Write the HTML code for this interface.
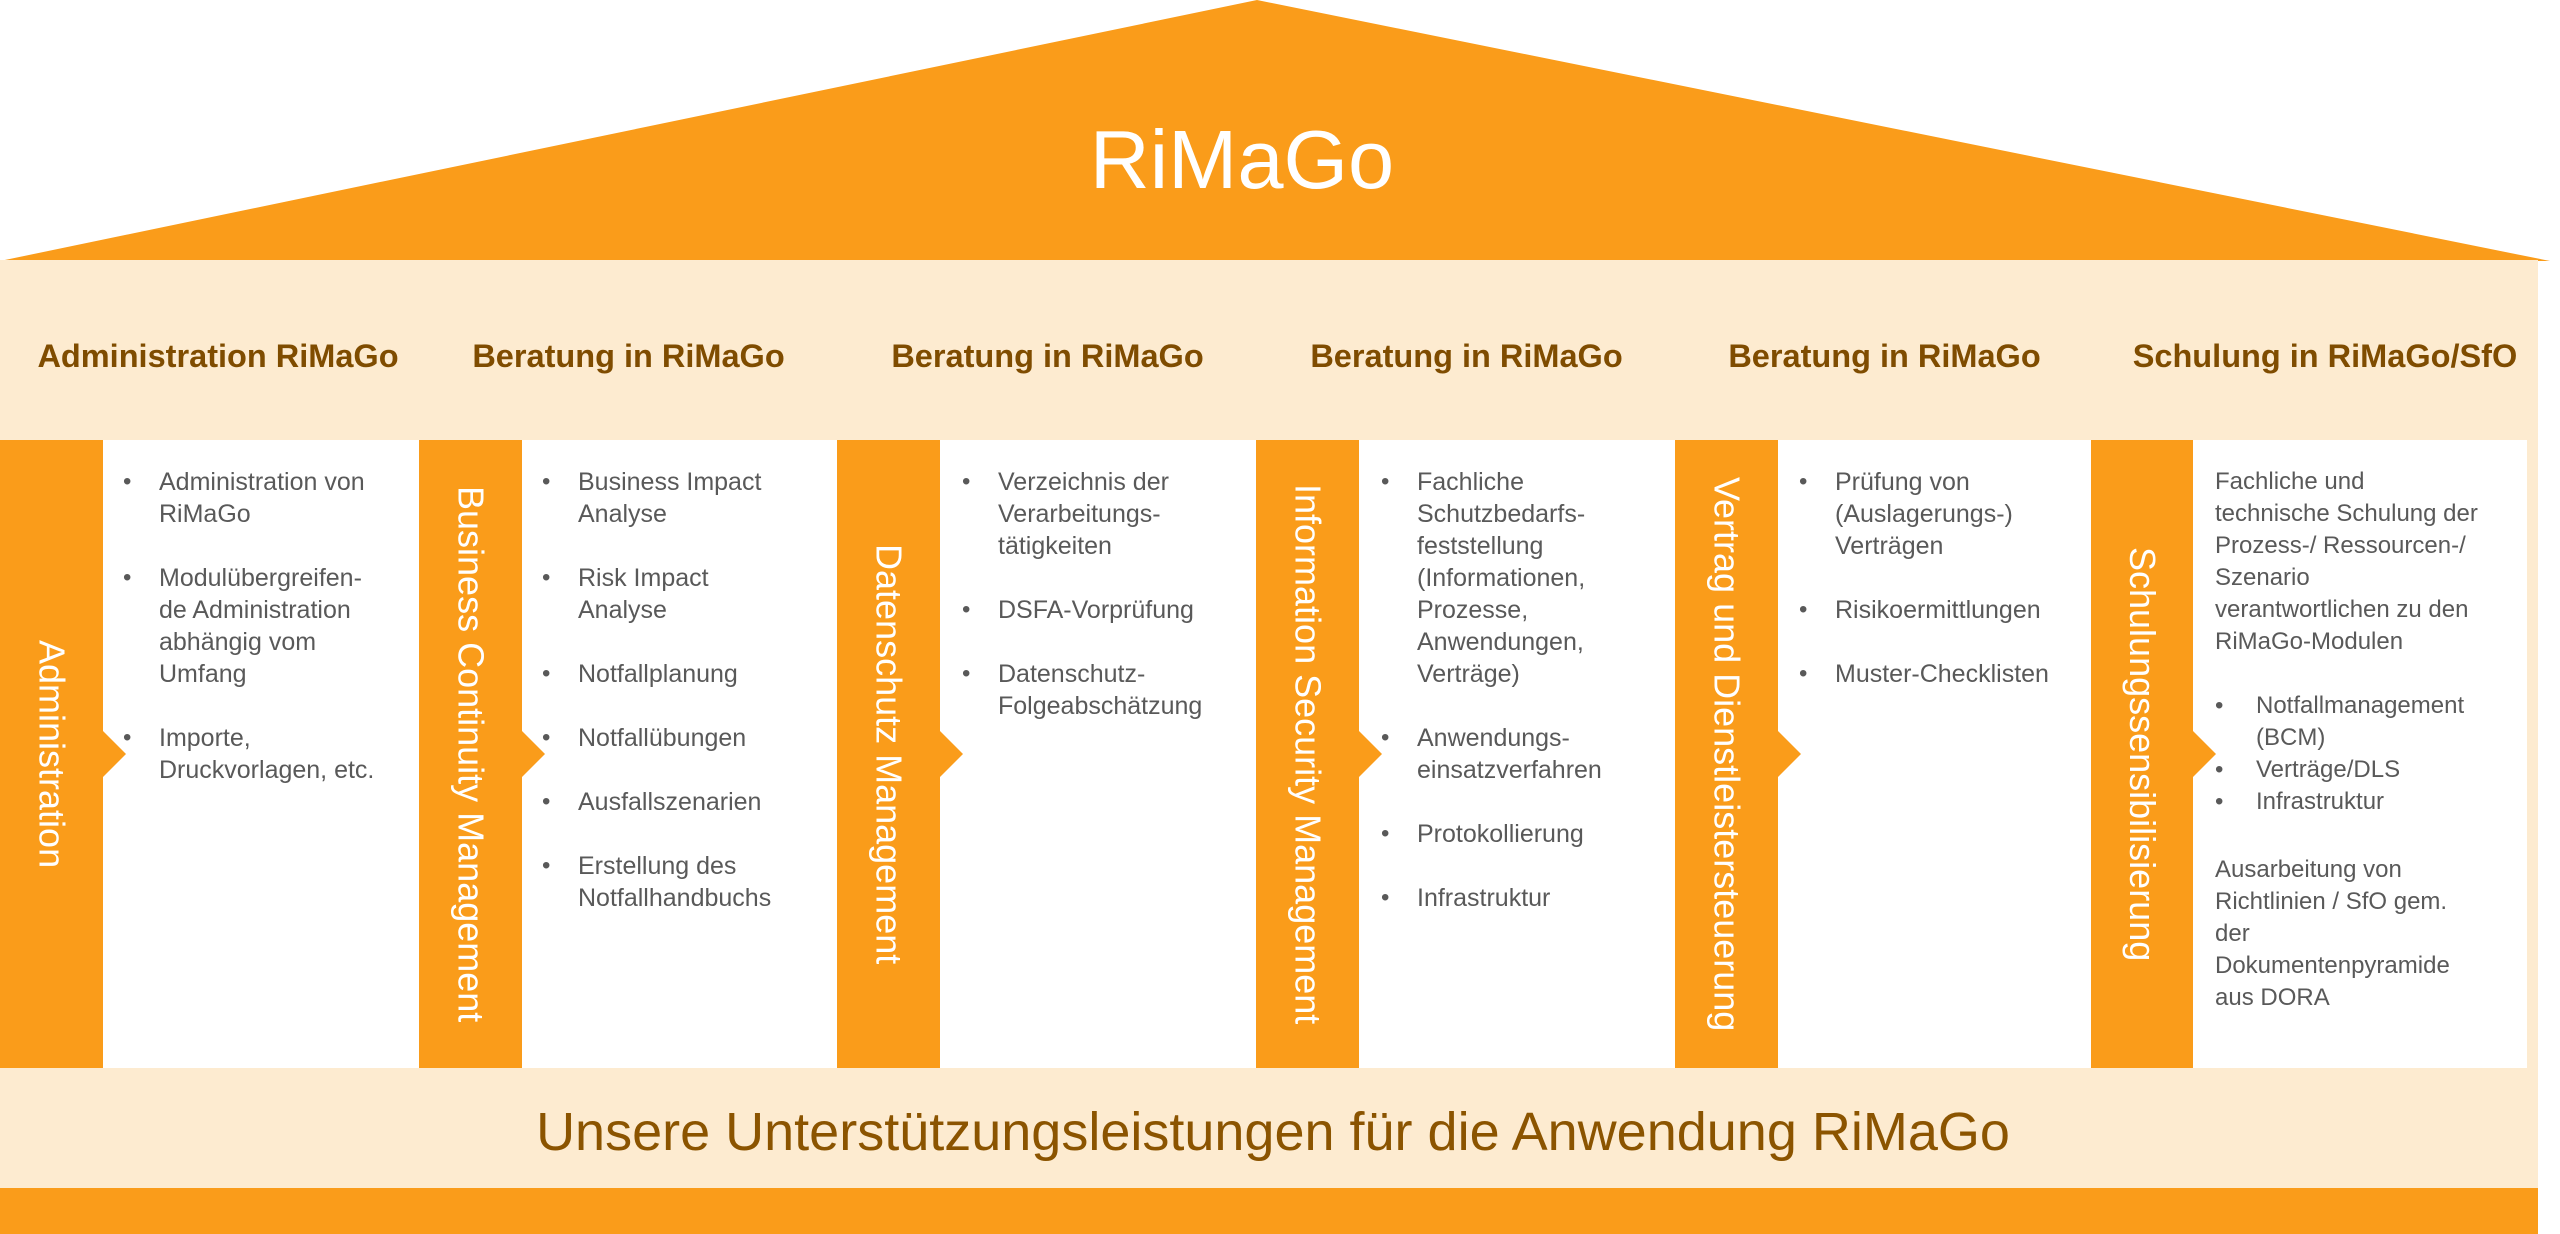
<!DOCTYPE html>
<html><head><meta charset="utf-8"><style>
*{margin:0;padding:0;box-sizing:border-box}
body{width:2560px;height:1234px;background:#fff;position:relative;overflow:hidden;font-family:"Liberation Sans",Arial,sans-serif}
.abs{position:absolute}
.h{position:absolute;top:334px;height:44px;line-height:44px;font-weight:bold;font-size:32.5px;color:#7f4c00;text-align:center;white-space:nowrap}
.bar{position:absolute;top:440px;width:103px;height:628px;background:#fa9c1a;display:flex;align-items:center;justify-content:center}
.bar span{writing-mode:vertical-rl;color:#fff;font-size:36px;white-space:nowrap;line-height:1}
.chev{position:absolute;top:731px;width:0;height:0;border-top:23px solid transparent;border-bottom:23px solid transparent;border-left:23px solid #fa9c1a}
.wh{position:absolute;top:440px;height:628px;background:#fff}
.list{position:absolute;top:466px;font-size:25px;line-height:32px;color:#595959;white-space:nowrap}
.list .it{position:relative;padding-left:36px;margin-bottom:32px}
.list .it:before{content:"•";position:absolute;left:0;top:0;font-size:24px}
.c6{position:absolute;top:466px;left:2215px;font-size:24px;line-height:32px;color:#595959;white-space:nowrap}
.c6 .b{position:relative;padding-left:41px}
.c6 .b:before{content:"•";position:absolute;left:0;font-size:24px}
</style></head><body>
<svg class="abs" style="left:0;top:0" width="2560" height="270"><polygon points="0,261 1257,0 2550,261" fill="#fa9c1a"/></svg>
<div class="abs" style="left:0;top:110px;width:2484px;text-align:center;color:#fff;font-size:83px;line-height:100px">RiMaGo</div>
<div class="abs" style="left:0;top:260px;width:2538px;height:928px;background:#fdebd0"></div>
<div class="abs" style="left:0;top:1188px;width:2538px;height:46px;background:#fa9c1a"></div>

<div class="h" style="left:0;width:436px">Administration RiMaGo</div>
<div class="h" style="left:419px;width:419px">Beratung in RiMaGo</div>
<div class="h" style="left:838px;width:419px">Beratung in RiMaGo</div>
<div class="h" style="left:1257px;width:419px">Beratung in RiMaGo</div>
<div class="h" style="left:1675px;width:419px">Beratung in RiMaGo</div>
<div class="h" style="left:2100px;width:450px">Schulung in RiMaGo/SfO</div>

<div class="wh" style="left:103px;width:316px"></div>
<div class="wh" style="left:522px;width:316px"></div>
<div class="wh" style="left:940px;width:317px"></div>
<div class="wh" style="left:1359px;width:316px"></div>
<div class="wh" style="left:1778px;width:313px"></div>
<div class="wh" style="left:2193px;width:334px"></div>

<div class="bar" style="left:0"><span>Administration</span></div>
<div class="bar" style="left:419px"><span>Business Continuity Management</span></div>
<div class="bar" style="left:837px"><span>Datenschutz Management</span></div>
<div class="bar" style="left:1256px"><span>Information Security Management</span></div>
<div class="bar" style="left:1675px"><span>Vertrag und Dienstleistersteuerung</span></div>
<div class="bar" style="left:2091px;width:102px"><span>Schulungssensibilisierung</span></div>

<div class="chev" style="left:103px"></div>
<div class="chev" style="left:522px"></div>
<div class="chev" style="left:940px"></div>
<div class="chev" style="left:1359px"></div>
<div class="chev" style="left:1778px"></div>
<div class="chev" style="left:2193px"></div>

<div class="list" style="left:123px">
<div class="it">Administration von<br>RiMaGo</div>
<div class="it">Modulübergreifen-<br>de Administration<br>abhängig vom<br>Umfang</div>
<div class="it">Importe,<br>Druckvorlagen, etc.</div>
</div>
<div class="list" style="left:542px">
<div class="it">Business Impact<br>Analyse</div>
<div class="it">Risk Impact<br>Analyse</div>
<div class="it">Notfallplanung</div>
<div class="it">Notfallübungen</div>
<div class="it">Ausfallszenarien</div>
<div class="it">Erstellung des<br>Notfallhandbuchs</div>
</div>
<div class="list" style="left:962px">
<div class="it">Verzeichnis der<br>Verarbeitungs-<br>tätigkeiten</div>
<div class="it">DSFA-Vorprüfung</div>
<div class="it">Datenschutz-<br>Folgeabschätzung</div>
</div>
<div class="list" style="left:1381px">
<div class="it">Fachliche<br>Schutzbedarfs-<br>feststellung<br>(Informationen,<br>Prozesse,<br>Anwendungen,<br>Verträge)</div>
<div class="it">Anwendungs-<br>einsatzverfahren</div>
<div class="it">Protokollierung</div>
<div class="it">Infrastruktur</div>
</div>
<div class="list" style="left:1799px">
<div class="it">Prüfung von<br>(Auslagerungs-)<br>Verträgen</div>
<div class="it">Risikoermittlungen</div>
<div class="it">Muster-Checklisten</div>
</div>
<div class="c6">
<div>Fachliche und<br>technische Schulung der<br>Prozess-/ Ressourcen-/<br>Szenario<br>verantwortlichen zu den<br>RiMaGo-Modulen</div>
<div style="height:32px"></div>
<div class="b">Notfallmanagement<br>(BCM)</div>
<div class="b">Verträge/DLS</div>
<div class="b">Infrastruktur</div>
<div style="height:36px"></div>
<div>Ausarbeitung von<br>Richtlinien / SfO gem.<br>der<br>Dokumentenpyramide<br>aus DORA</div>
</div>

<div class="abs" style="left:0;top:1100px;width:2546px;text-align:center;font-size:54px;line-height:64px;color:#8b5400;white-space:nowrap">Unsere Unterstützungsleistungen für die Anwendung RiMaGo</div>
</body></html>
